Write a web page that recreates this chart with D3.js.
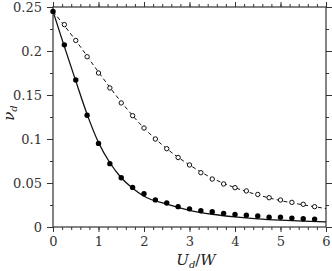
<!DOCTYPE html>
<html>
<head>
<meta charset="utf-8">
<script src="https://d3js.org/d3.v7.min.js"></script>
<style>
  body { margin: 0; background: #fff; }
</style>
</head>
<body>
<div id="chart"></div>
<script>
// measured points (filled = solid curve data, open = dashed curve data)
var filledX = [0, 0.25, 0.5, 0.75, 1, 1.25, 1.5, 1.75, 2, 2.25, 2.5, 2.75, 3, 3.25, 3.5, 3.75, 4, 4.25, 4.5, 4.75, 5, 5.25, 5.5, 5.75];
var filledY = [0.245, 0.207, 0.167, 0.127, 0.095, 0.072, 0.056, 0.045, 0.0377, 0.0308, 0.0272, 0.0231, 0.0206, 0.0185, 0.0174, 0.0155, 0.0142, 0.0134, 0.0125, 0.011, 0.011, 0.0101, 0.0094, 0.009];

var openX = [0.25, 0.5, 0.75, 1, 1.25, 1.5, 1.75, 2, 2.25, 2.5, 2.75, 3, 3.25, 3.5, 3.75, 4, 4.25, 4.5, 4.75, 5, 5.25, 5.5, 5.75];
var openY = [0.230, 0.212, 0.1935, 0.175, 0.158, 0.141, 0.1265, 0.1125, 0.100, 0.089, 0.079, 0.0705, 0.0617, 0.0545, 0.0489, 0.0447, 0.041, 0.037, 0.0333, 0.0307, 0.028, 0.0258, 0.0231];

// model curves
var solidX = [0, 0.25, 0.5, 0.75, 1, 1.25, 1.5, 1.75, 2, 2.5, 3, 3.5, 4, 4.5, 5, 5.5, 6];
var solidY = [0.245, 0.205, 0.166, 0.128, 0.096, 0.073, 0.056, 0.044, 0.035, 0.026, 0.019, 0.0145, 0.0115, 0.0093, 0.0078, 0.0067, 0.0058];

var dashX = [0, 0.5, 1, 1.5, 2, 2.5, 3, 3.5, 4, 4.5, 5, 5.5, 6];
var dashY = [0.245, 0.212, 0.176, 0.142, 0.1125, 0.089, 0.0705, 0.0555, 0.0447, 0.0365, 0.030, 0.0252, 0.021];

var xTicks = [0, 1, 2, 3, 4, 5, 6];
var yTicks = [0, 0.05, 0.1, 0.15, 0.2, 0.25];
var yTickLabels = ["0", "0.05", "0.1", "0.15", "0.2", "0.25"];

var FONT = "'DejaVu Serif', 'Liberation Serif', serif";

var W = 332, H = 271;
var margin = {top: 7, right: 6, bottom: 44, left: 53},
    width = W - margin.left - margin.right,
    height = H - margin.top - margin.bottom;

var svg = d3.select("#chart")
    .append("svg")
    .attr("width", W)
    .attr("height", H)
    .append("g")
    .attr("transform", "translate(" + margin.left + "," + margin.top + ")");

var x = d3.scaleLinear().domain([0, 6]).range([0, width]);
var y = d3.scaleLinear().domain([0, 0.25]).range([height, 0]);

var xMinor = d3.range(0, 6.001, 0.2).map(d => +d.toFixed(1));
var yMinor = d3.range(0, 0.2501, 0.025).map(d => +d.toFixed(3));

function styleAxis(g) {
    g.attr("font-family", FONT);
    g.select(".domain").remove();
    g.selectAll("line").attr("stroke", "#333").attr("stroke-width", 1);
    g.selectAll("text")
        .style("font-family", FONT)
        .style("font-size", "13px")
        .attr("fill", "#333");
}

// bottom
svg.append("g").attr("transform", "translate(0," + height + ")")
    .call(d3.axisBottom(x).tickValues(xMinor).tickSize(3).tickFormat(""))
    .call(styleAxis);
svg.append("g").attr("transform", "translate(0," + height + ")")
    .call(d3.axisBottom(x).tickValues(xTicks).tickSize(5).tickPadding(5).tickFormat(d3.format("d")))
    .call(styleAxis);
// top
svg.append("g")
    .call(d3.axisTop(x).tickValues(xMinor).tickSize(3).tickFormat(""))
    .call(styleAxis);
svg.append("g")
    .call(d3.axisTop(x).tickValues(xTicks).tickSize(5).tickFormat(""))
    .call(styleAxis);
// left
svg.append("g")
    .call(d3.axisLeft(y).tickValues(yMinor).tickSize(3).tickFormat(""))
    .call(styleAxis);
svg.append("g")
    .call(d3.axisLeft(y).tickValues(yTicks).tickSize(6).tickPadding(5).tickFormat((d, i) => yTickLabels[i]))
    .call(styleAxis);
// right
svg.append("g").attr("transform", "translate(" + width + ",0)")
    .call(d3.axisRight(y).tickValues(yMinor).tickSize(3).tickFormat(""))
    .call(styleAxis);
svg.append("g").attr("transform", "translate(" + width + ",0)")
    .call(d3.axisRight(y).tickValues(yTicks).tickSize(6).tickFormat(""))
    .call(styleAxis);

// frame
svg.append("rect")
    .attr("x", 0).attr("y", 0)
    .attr("width", width).attr("height", height)
    .attr("fill", "none")
    .attr("stroke", "#333")
    .attr("stroke-width", 1.2);

var line = d3.line()
    .x(d => x(d[0]))
    .y(d => y(d[1]))
    .curve(d3.curveMonotoneX);

svg.append("path")
    .datum(solidX.map((d, i) => [d, solidY[i]]))
    .attr("d", line)
    .attr("fill", "none")
    .attr("stroke", "#111")
    .attr("stroke-width", 1.3);

svg.append("path")
    .datum(dashX.map((d, i) => [d, dashY[i]]))
    .attr("d", line)
    .attr("fill", "none")
    .attr("stroke", "#111")
    .attr("stroke-width", 1)
    .attr("stroke-dasharray", "4,3");

svg.selectAll(".open")
    .data(openX.map((d, i) => [d, openY[i]]))
    .join("circle")
    .attr("class", "open")
    .attr("cx", d => x(d[0]))
    .attr("cy", d => y(d[1]))
    .attr("r", 2.2)
    .attr("fill", "#fff")
    .attr("stroke", "#111")
    .attr("stroke-width", 1);

svg.selectAll(".filled")
    .data(filledX.map((d, i) => [d, filledY[i]]))
    .join("circle")
    .attr("class", "filled")
    .attr("cx", d => x(d[0]))
    .attr("cy", d => y(d[1]))
    .attr("r", 2.7)
    .attr("fill", "#000");

// axis titles
var xt = svg.append("text")
    .attr("x", 143)
    .attr("y", height + 38)
    .attr("text-anchor", "middle")
    .style("font-family", FONT)
    .style("font-size", "15px")
    .attr("fill", "#222");
xt.append("tspan").style("font-style", "italic").text("U");
xt.append("tspan").style("font-style", "italic").style("font-size", "10px").attr("dy", 3).text("d");
xt.append("tspan").attr("dy", -3).text("/");
xt.append("tspan").style("font-style", "italic").text("W");

var yt = svg.append("text")
    .attr("transform", "translate(" + (-39) + "," + (height / 2 - 4) + ")rotate(-90)")
    .attr("text-anchor", "middle")
    .style("font-family", FONT)
    .style("font-size", "15px")
    .attr("fill", "#222");
yt.append("tspan").style("font-style", "italic").text("ν");
yt.append("tspan").style("font-style", "italic").style("font-size", "10px").attr("dy", 3).text("d");
</script>
</body>
</html>
